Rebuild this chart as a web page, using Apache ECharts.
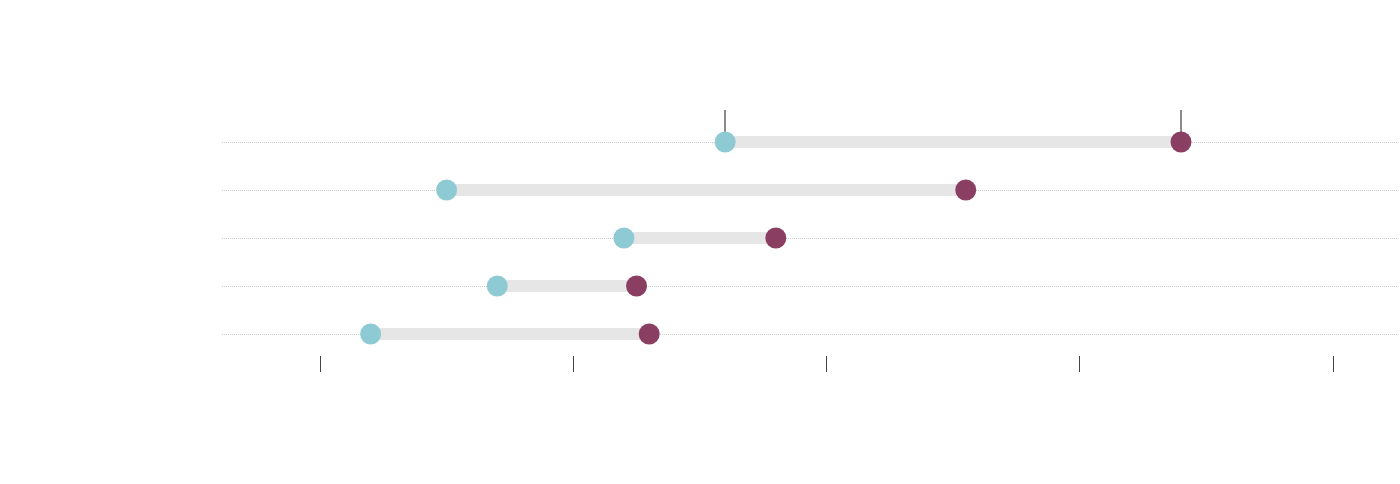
<!DOCTYPE html>
<html>
<head>
<meta charset="utf-8">
<script src="https://cdn.jsdelivr.net/npm/echarts@6/dist/echarts.min.js"></script>
<style>html,body{margin:0;padding:0;background:#fff}#c{width:1400px;height:484px}</style>
</head>
<body>
<div id="c"></div>
<script>
// Data
const categories = ['A', 'B', 'C', 'D', 'E'];
const startValues = [16, 5, 12, 7, 2];
const endValues = [34, 25.5, 18, 12.5, 13];
const tickValues = [0, 10, 20, 30, 40];
const highlightValues = [startValues[0], endValues[0]];

const chart = echarts.init(document.getElementById('c'));
const gaps = endValues.map((e, i) => e - startValues[i]);

chart.setOption({
  animation: false,
  grid: { left: 222, right: 3, top: 142, bottom: 150, containLabel: false },
  xAxis: [
    {
      type: 'value', min: -3.87, max: 42.53, position: 'bottom', offset: 22,
      axisLine: { show: false },
      axisTick: { show: true, length: 16, customValues: tickValues, lineStyle: { color: '#444', width: 1 } },
      axisLabel: { show: false, customValues: tickValues },
      splitLine: { show: false }
    },
    {
      type: 'value', min: -3.87, max: 42.53, position: 'top', offset: 10,
      axisLine: { show: false },
      axisTick: { show: true, length: 22, customValues: highlightValues, lineStyle: { color: '#666', width: 1.5 } },
      axisLabel: { show: false, customValues: highlightValues },
      splitLine: { show: false }
    }
  ],
  yAxis: {
    type: 'category', data: categories, inverse: true, boundaryGap: false,
    axisLine: { show: false }, axisTick: { show: false }, axisLabel: { show: false },
    splitLine: { show: true, lineStyle: { color: '#c8c8c8', width: 1, type: [1, 1] } }
  },
  series: [
    { type: 'bar', stack: 'r', data: startValues, barWidth: 12, itemStyle: { color: 'transparent' }, silent: true },
    { type: 'bar', stack: 'r', data: gaps, barWidth: 12, itemStyle: { color: '#e6e6e6' }, silent: true },
    { type: 'scatter', data: startValues, symbolSize: 21, itemStyle: { color: '#8ecad4', opacity: 1 }, z: 5 },
    { type: 'scatter', data: endValues, symbolSize: 21, itemStyle: { color: '#8a3e62', opacity: 1 }, z: 5 }
  ]
});
</script>
</body>
</html>
